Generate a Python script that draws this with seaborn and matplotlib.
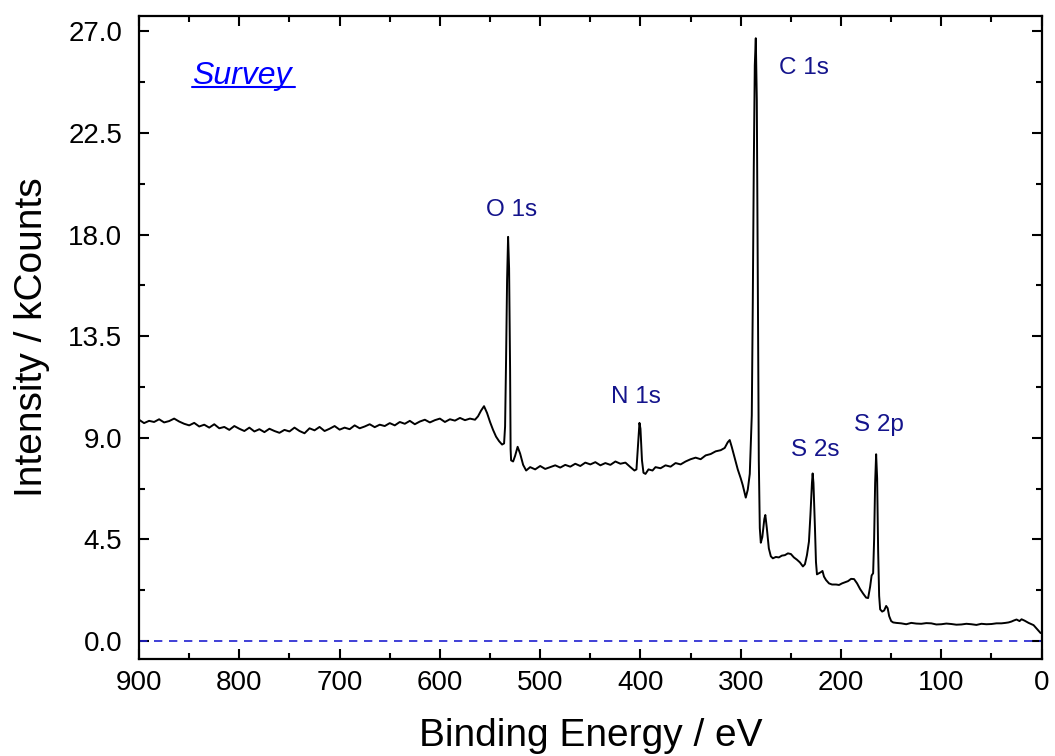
import numpy as np
import pandas as pd
import matplotlib
matplotlib.use("Agg")
import matplotlib.pyplot as plt
from matplotlib.ticker import MultipleLocator
import seaborn as sns

# --- spectrum (binding energy in eV, intensity in kCounts) --- #
energy = [
    900, 895, 890, 885, 880, 875, 870, 865, 860, 855, 850, 845, 840, 835, 830, 825,
    820, 815, 810, 805, 800, 795, 790, 785, 780, 775, 770, 765, 760, 755, 750, 745,
    740, 735, 730, 725, 720, 715, 710, 705, 700, 695, 690, 685, 680, 675, 670, 665,
    660, 655, 650, 645, 640, 635, 630, 625, 620, 615, 610, 605, 600, 595, 590, 585,
    580, 575, 570, 565, 562, 559, 556, 553, 550, 547, 544, 541, 538, 536, 535, 534,
    533, 532, 531, 530, 529.5, 529, 527, 525, 522.5, 520, 517, 514, 510, 505, 500, 495,
    490, 485, 480, 475, 470, 465, 460, 455, 450, 445, 440, 435, 430, 425, 420, 415,
    410, 406, 404, 402.5, 401, 400, 398.5, 397, 395, 392, 388, 385, 380, 375, 370, 365,
    360, 355, 350, 345, 340, 335, 330, 325, 320, 316, 313, 311, 309, 306, 303, 300,
    298, 295, 293, 291, 289, 288, 287, 286, 285, 284, 283, 282, 281, 280, 278.5, 276.5,
    275.5, 274, 272, 270, 268, 265, 262, 259, 256, 253, 250, 247, 244, 241, 238, 236,
    234, 232, 230.5, 229, 228.3, 227.5, 226, 225, 224, 222, 220, 218.5, 217, 215, 212, 209,
    205, 202, 199, 196, 193, 190, 187, 184, 181, 178, 175, 173, 171, 169.5, 168, 167,
    166, 165, 164, 163, 162, 161, 159, 157, 155, 153.5, 152, 150, 148, 145, 140, 135,
    130, 125, 120, 115, 110, 105, 100, 95, 90, 85, 80, 75, 70, 65, 60, 55,
    50, 45, 40, 36, 33, 30, 28, 25, 22, 20, 17, 13, 8, 4, 1,
]
intensity = [
    9.80, 9.65, 9.75, 9.70, 9.82, 9.68, 9.74, 9.85, 9.72, 9.62, 9.55, 9.66, 9.50, 9.58, 9.45, 9.60,
    9.42, 9.48, 9.35, 9.52, 9.40, 9.30, 9.45, 9.28, 9.38, 9.25, 9.40, 9.30, 9.22, 9.35, 9.28, 9.45,
    9.30, 9.20, 9.42, 9.33, 9.48, 9.30, 9.40, 9.52, 9.36, 9.45, 9.38, 9.55, 9.42, 9.50, 9.60, 9.47,
    9.58, 9.52, 9.65, 9.55, 9.70, 9.62, 9.75, 9.60, 9.72, 9.80, 9.68, 9.78, 9.85, 9.70, 9.82, 9.76,
    9.88, 9.78, 9.85, 9.80, 9.95, 10.20, 10.40, 10.10, 9.70, 9.35, 9.05, 8.85, 8.70, 8.75, 9.50, 12.5,
    16.0, 17.9, 16.5, 12.0, 8.50, 8.00, 7.95, 8.20, 8.60, 8.30, 7.80, 7.55, 7.70, 7.60, 7.75, 7.62,
    7.70, 7.78, 7.68, 7.80, 7.72, 7.85, 7.75, 7.90, 7.82, 7.92, 7.78, 7.88, 7.80, 7.95, 7.85, 7.90,
    7.70, 7.55, 7.60, 8.60, 9.66, 9.40, 8.00, 7.45, 7.40, 7.60, 7.55, 7.70, 7.65, 7.78, 7.72, 7.88,
    7.82, 7.95, 8.05, 8.12, 8.05, 8.22, 8.28, 8.40, 8.45, 8.55, 8.80, 8.90, 8.60, 8.10, 7.60, 7.20,
    6.90, 6.35, 6.70, 7.40, 10.0, 15.0, 21.0, 25.5, 26.7, 24.0, 16.0, 8.0, 5.0, 4.35, 4.60, 5.40,
    5.58, 5.00, 4.10, 3.75, 3.66, 3.72, 3.70, 3.78, 3.80, 3.88, 3.85, 3.70, 3.60, 3.48, 3.30, 3.40,
    3.80, 4.40, 5.60, 7.00, 7.42, 7.00, 5.00, 3.50, 2.95, 3.00, 3.05, 3.10, 2.85, 2.70, 2.55, 2.50,
    2.50, 2.48, 2.55, 2.60, 2.65, 2.75, 2.74, 2.55, 2.30, 2.10, 1.92, 1.90, 2.40, 2.90, 3.00, 4.50,
    7.00, 8.27, 7.20, 4.00, 2.00, 1.40, 1.30, 1.35, 1.55, 1.45, 1.10, 0.88, 0.82, 0.80, 0.78, 0.74,
    0.80, 0.77, 0.76, 0.79, 0.78, 0.73, 0.74, 0.77, 0.75, 0.72, 0.73, 0.76, 0.74, 0.71, 0.76, 0.74,
    0.75, 0.78, 0.78, 0.80, 0.82, 0.86, 0.90, 0.95, 0.88, 0.96, 0.90, 0.80, 0.70, 0.50, 0.35,
]

peak_labels = ["O 1s", "N 1s", "C 1s", "S 2s", "S 2p"]
label_x = [529, 405, 237, 226, 162]
label_y = [19.1, 10.8, 25.4, 8.45, 9.55]

y_ticks = [0.0, 4.5, 9.0, 13.5, 18.0, 22.5, 27.0]
x_ticks = [900, 800, 700, 600, 500, 400, 300, 200, 100, 0]

df = pd.DataFrame({"energy": energy, "intensity": intensity})

sns.set_style("ticks")
plt.rcParams['font.family'] = ['Liberation Sans', 'DejaVu Sans']

fig = plt.figure(figsize=(10.55, 7.56), dpi=100)
ax = fig.add_axes([0.1318, 0.1283, 0.8555, 0.8510])

sns.lineplot(data=df, x="energy", y="intensity", ax=ax, color="black",
             linewidth=1.4, estimator=None, sort=False)
ax.axhline(0, color="#1f1fd0", linestyle=(0, (5, 4)), linewidth=1.2)

ax.set_xlim(900, 0)
ax.set_ylim(-0.8, 27.7)
ax.set_xticks(x_ticks)
ax.set_yticks(y_ticks)
ax.set_yticklabels([f"{v:.1f}" for v in y_ticks])
ax.xaxis.set_minor_locator(MultipleLocator(50))
ax.yaxis.set_minor_locator(MultipleLocator(2.25))
ax.tick_params(which="both", direction="in", top=True, right=True, width=1.5,
               labelsize=20, colors="black")
ax.tick_params(which="major", length=7)
ax.tick_params(which="minor", length=4)
ax.tick_params(axis="y", pad=12)
ax.tick_params(axis="x", pad=8)
ax.tick_params(axis="x", labeltop=False)
ax.tick_params(axis="y", labelright=False)
for s in ax.spines.values():
    s.set_linewidth(1.6)
    s.set_color("black")

ax.set_xlabel("Binding Energy / eV", fontsize=28, labelpad=16, color="black")
ax.set_ylabel("Intensity / kCounts", fontsize=28, labelpad=13, color="black")

for txt, lx, ly in zip(peak_labels, label_x, label_y):
    ax.text(lx, ly, txt, color="#14148c", fontsize=17.5, ha="center", va="center")

ax.text(0.0587, 0.906, "Survey", transform=ax.transAxes, color="#0000ff",
        fontsize=23, style="italic", ha="left", va="center")
ax.plot([0.0587, 0.1728], [0.8885, 0.8885], transform=ax.transAxes,
        color="#0000ff", linewidth=1.5)

plt.savefig("out.png", dpi=100)
